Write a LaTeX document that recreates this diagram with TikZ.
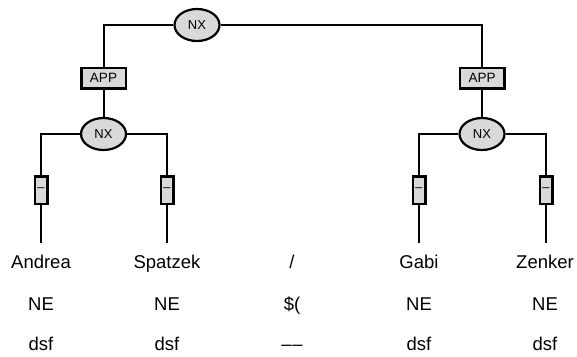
\documentclass[tikz,border=0pt]{standalone}
\usepackage{fontspec}
\setmainfont{Liberation Sans}
\usetikzlibrary{shapes.geometric}
\definecolor{boxgray}{HTML}{D9D9D9}
\begin{document}
\begin{tikzpicture}[x=1pt,y=-1pt,
  conn/.style={line width=2pt},
  nxnode/.style={ellipse, draw, line width=2.2pt, fill=boxgray, minimum width=45pt, minimum height=32pt, inner sep=0pt, font=\fontsize{13}{13}\selectfont},
  appnode/.style={rectangle, draw, line width=2.5pt, fill=boxgray, minimum width=44.5pt, minimum height=20.5pt, inner sep=0pt, font=\fontsize{13.5}{13.5}\selectfont},
  dashnode/.style={rectangle, draw, line width=2.5pt, fill=boxgray, minimum width=12.5pt, minimum height=27.5pt, inner sep=0pt, font=\fontsize{13}{13}\selectfont},
  word/.style={anchor=base, inner sep=0pt, text height=13.5pt, text depth=4pt, font=\fontsize{18.5}{20}\selectfont}]
\useasboundingbox (0,0) rectangle (577,356);

\node[nxnode] (top) at (197,25) {NX};
\node[appnode] (appL) at (103.5,78) {APP};
\node[appnode] (appR) at (482,78) {APP};
\node[nxnode] (nxL) at (103.5,134) {NX};
\node[nxnode] (nxR) at (482,134) {NX};
\node[dashnode] (d1) at (41,190) {–};
\node[dashnode] (d2) at (167,190) {–};
\node[dashnode] (d3) at (419,190) {–};
\node[dashnode] (d4) at (546,190) {–};

\node[word] (w1) at (41,268) {Andrea};
\node[word] (w2) at (167,268) {Spatzek};
\node[word] (w3) at (292,268) {/};
\node[word] (w4) at (419,268) {Gabi};
\node[word] (w5) at (545,268) {Zenker};

\node[word] (p1) at (41,310) {NE};
\node[word] (p2) at (167,310) {NE};
\node[word] (p3) at (292,310) {\$(};
\node[word] (p4) at (419,310) {NE};
\node[word] (p5) at (545,310) {NE};

\node[word] (m1) at (41,350) {dsf};
\node[word] (m2) at (167,350) {dsf};
\node[word] (m3) at (292,350) {–\kern0.6pt–};
\node[word] (m4) at (419,350) {dsf};
\node[word] (m5) at (545,350) {dsf};

\draw[conn] (top.west) -| (appL.north);
\draw[conn] (top.east) -| (appR.north);
\draw[conn] (appL.south) -- (nxL.north);
\draw[conn] (appR.south) -- (nxR.north);
\draw[conn] (nxL.west) -| (d1.north);
\draw[conn] (nxL.east) -| (d2.north);
\draw[conn] (nxR.west) -| (d3.north);
\draw[conn] (nxR.east) -| (d4.north);
\draw[conn] (d1.south) -- ([yshift=11.5pt]w1.north);
\draw[conn] (d2.south) -- ([yshift=11.5pt]w2.north -| d2.south);
\draw[conn] (d3.south) -- ([yshift=11.5pt]w4.north -| d3.south);
\draw[conn] (d4.south) -- ([yshift=11.5pt]w5.north -| d4.south);
\end{tikzpicture}
\end{document}
